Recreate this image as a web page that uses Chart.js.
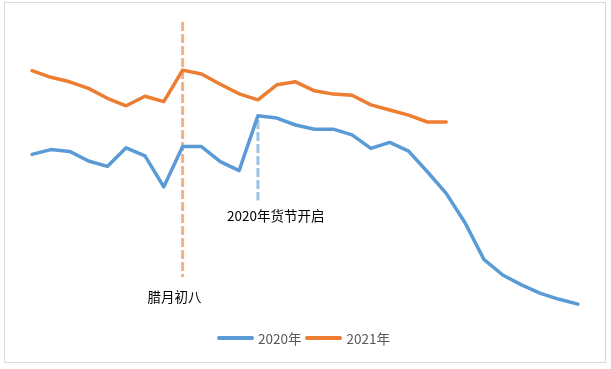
<!DOCTYPE html>
<html>
<head>
<meta charset="utf-8">
<script src="https://cdn.jsdelivr.net/npm/chart.js"></script>
<style>
  html, body { margin: 0; padding: 0; background: #fff; }
  #wrap { position: relative; width: 611px; height: 369px; }
  #frame {
    position: absolute; left: 4px; top: 2px; width: 602px; height: 361px;
    border: 1px solid #d9d9d9; box-sizing: border-box; pointer-events: none;
  }
  #chart { position: absolute; left: 0; top: 0; }
  #legend {
    position: absolute; left: 217px; top: 330px; height: 16px;
    display: flex; align-items: center;
    font-family: "Noto Sans CJK SC", "Noto Sans", sans-serif; font-size: 13.5px; color: #595959;
  }
  #legend .sw { width: 37px; height: 3.5px; border-radius: 2px; margin-right: 4px; }
  #legend .item { display: flex; align-items: center; margin-right: 4px; }
</style>
</head>
<body>
<div id="wrap">
  <canvas id="chart" width="611" height="369"></canvas>
  <div id="frame"></div>
  <div id="legend"></div>
</div>
<script>
// 30 days of data, hidden axes
const days = Array.from({ length: 30 }, (_, i) => 'D' + (i + 1));

const series2020 = [55.2, 56.8, 56.2, 53.0, 51.2, 57.4, 54.7, 44.4, 57.8, 57.8,
                    52.8, 49.8, 68.1, 67.3, 65.0, 63.6, 63.6, 61.7, 57.2, 59.2,
                    56.3, 49.4, 42.2, 32.4, 20.2, 15.0, 11.7, 8.9, 6.9, 5.3];

const series2021 = [83.1, 80.9, 79.4, 77.2, 73.9, 71.4, 74.6, 72.8, 83.3, 82.0,
                    78.6, 75.4, 73.4, 78.4, 79.4, 76.4, 75.3, 74.9, 71.7, 70.0,
                    68.3, 66.0, 66.0];

const seriesNames = ['2020年', '2021年'];

// marker lines: day index, from / to value, label
const markerDays = [8, 12];
const markerFrom = [14.3, 39.8];
const markerTo = [99.3, 66.7];
const markerLabels = ['腊月初八', '2020年货节开启'];

const colors = ['#5b9bd5', '#ed7d31'];
const markerColors = ['#f4b183', '#9dc3e6'];

const markerPlugin = {
    id: 'markers',
    beforeDatasetsDraw(chart) {
        const { ctx, scales } = chart;
        ctx.save();
        ctx.lineWidth = 3;
        ctx.setLineDash([9, 3]);
        markerDays.forEach((d, i) => {
            const x = scales.x.getPixelForValue(d);
            ctx.strokeStyle = markerColors[i];
            ctx.beginPath();
            ctx.moveTo(x, scales.y.getPixelForValue(markerTo[i]));
            ctx.lineTo(x, scales.y.getPixelForValue(markerFrom[i]));
            ctx.stroke();
        });
        ctx.restore();
    },
    afterDraw(chart) {
        const { ctx, scales } = chart;
        ctx.save();
        ctx.fillStyle = '#000';
        ctx.font = '13.5px "Noto Sans CJK SC", sans-serif';
        ctx.textBaseline = 'middle';
        ctx.textAlign = 'left';
        // label sits a bit below the end of its line
        const offsets = [[-35, -20], [-31, -15]];
        markerDays.forEach((d, i) => {
            const x = scales.x.getPixelForValue(d) + offsets[i][0];
            const y = scales.y.getPixelForValue(markerFrom[i]) - offsets[i][1];
            ctx.fillText(markerLabels[i], x, y);
        });
        ctx.restore();
    }
};

new Chart(document.getElementById('chart'), {
    type: 'line',
    data: {
        labels: days,
        datasets: [
            { label: seriesNames[0], data: series2020, borderColor: colors[0], backgroundColor: colors[0] },
            { label: seriesNames[1], data: series2021, borderColor: colors[1], backgroundColor: colors[1] }
        ]
    },
    options: {
        responsive: false,
        animation: false,
        layout: { padding: { left: 32, right: 33, top: 20, bottom: 49 } },
        elements: {
            line: { borderWidth: 3.5, tension: 0, borderJoinStyle: 'round', borderCapStyle: 'round' },
            point: { radius: 0, hoverRadius: 0 }
        },
        scales: {
            x: { display: false, offset: false },
            y: { display: false, min: 0, max: 100 }
        },
        plugins: {
            legend: { display: false },
            tooltip: { enabled: false }
        }
    },
    plugins: [markerPlugin]
});

// legend as html
const legend = document.getElementById('legend');
seriesNames.forEach((name, i) => {
    const item = document.createElement('div');
    item.className = 'item';
    item.innerHTML = '<span class="sw" style="background:' + colors[i] + '"></span><span>' + name + '</span>';
    legend.appendChild(item);
});
</script>
</body>
</html>
